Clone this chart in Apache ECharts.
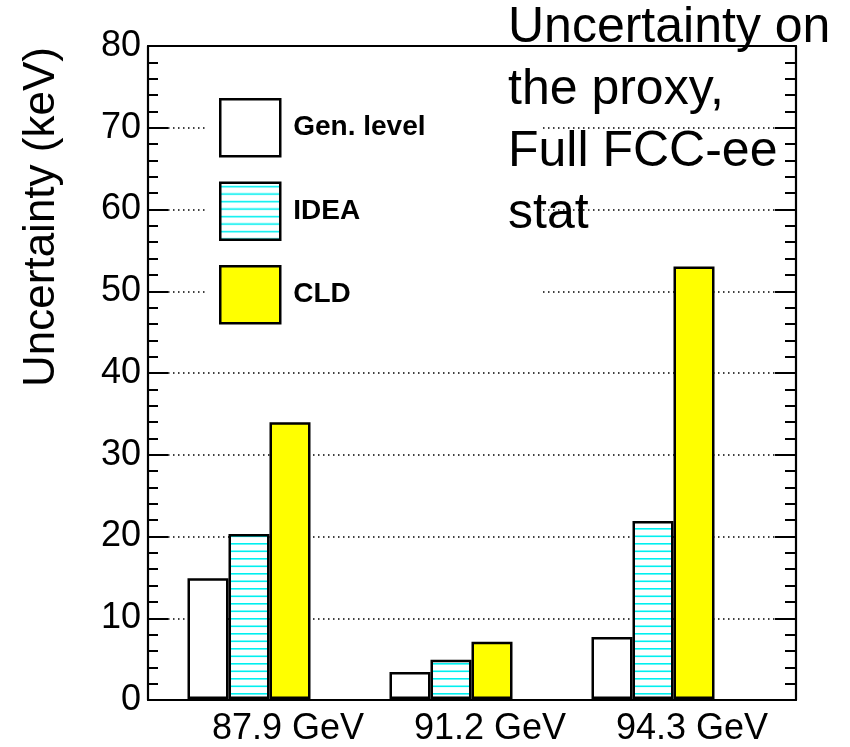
<!DOCTYPE html>
<html>
<head>
<meta charset="utf-8">
<script src="https://cdn.jsdelivr.net/npm/echarts@6/dist/echarts.min.js"></script>
<style>
  html, body { margin: 0; padding: 0; background: #ffffff; }
  #chart { width: 850px; height: 747px; }
</style>
</head>
<body>
<div id="chart"></div>
<script>
// Beam energies (x categories)
const categories = ['87.9 GeV', '91.2 GeV', '94.3 GeV'];
// Uncertainty on the proxy, in keV
const genLevel = [14.8, 3.3, 7.6];
const idea = [20.2, 4.8, 21.8];
const cld = [33.9, 7.0, 53.0];
const seriesNames = ['Gen. level', 'IDEA', 'CLD'];
// Y axis range and step
const yMin = 0, yMax = 80, yStep = 10;

const FONT = 'Liberation Sans, Arial, Helvetica, sans-serif';

// Horizontal cyan hatching used for the IDEA bars
function hatchPattern() {
  const c = document.createElement('canvas');
  c.width = 8; c.height = 15;
  const g = c.getContext('2d');
  g.fillStyle = '#ffffff';
  g.fillRect(0, 0, 8, 15);
  g.fillStyle = '#00f0f0';
  g.fillRect(0, 3, 8, 1.6);
  g.fillRect(0, 10.5, 8, 1.6);
  return { image: c, repeat: 'repeat' };
}

const chart = echarts.init(document.getElementById('chart'), null, { renderer: 'canvas' });

const frameLine = { lineStyle: { color: '#000', width: 2.2 } };

const option = {
  backgroundColor: '#ffffff',
  animation: false,
  grid: [
    // frame of the pad
    { left: 148, right: 54, top: 46, bottom: 47, containLabel: false },
    // bar placement (three bins of equal width)
    { left: 148, width: 606, top: 46, bottom: 47, containLabel: false }
  ],
  xAxis: [
    { gridIndex: 0, type: 'value', min: 0, max: 1, position: 'bottom',
      axisLine: { show: true, onZero: false, ...frameLine }, axisTick: { show: false },
      axisLabel: { show: false }, splitLine: { show: false } },
    { gridIndex: 0, type: 'value', min: 0, max: 1, position: 'top',
      axisLine: { show: true, onZero: false, ...frameLine }, axisTick: { show: false },
      axisLabel: { show: false }, splitLine: { show: false } },
    { gridIndex: 1, type: 'category', data: categories, position: 'bottom',
      axisLine: { show: false }, axisTick: { show: false },
      axisLabel: { show: true, color: '#000', fontFamily: FONT, fontSize: 36,
        margin: 12, padding: [0, 0, 0, 78], interval: 0 },
      splitLine: { show: false } }
  ],
  yAxis: [
    { gridIndex: 0, type: 'value', min: yMin, max: yMax, interval: yStep, position: 'left',
      axisLine: { show: true, onZero: false, ...frameLine },
      axisTick: { show: true, inside: true, length: 20, lineStyle: { color: '#000', width: 2 } },
      minorTick: { show: true, splitNumber: 5, length: 10, lineStyle: { color: '#000', width: 2 } },
      axisLabel: { color: '#000', fontFamily: FONT, fontSize: 36, margin: 7 },
      splitLine: { show: true, lineStyle: { color: '#000', width: 1.5, type: [1.5, 3.5] } } },
    { gridIndex: 0, type: 'value', min: yMin, max: yMax, interval: yStep, position: 'right',
      axisLine: { show: true, onZero: false, ...frameLine },
      axisTick: { show: true, inside: true, length: 21, lineStyle: { color: '#000', width: 2 } },
      minorTick: { show: true, splitNumber: 5, length: 11, lineStyle: { color: '#000', width: 2 } },
      axisLabel: { show: false }, splitLine: { show: false } },
    { gridIndex: 1, type: 'value', min: yMin, max: yMax, show: false }
  ],
  legend: {
    orient: 'vertical',
    left: 207, top: 80,
    padding: [18, 115, 13, 12],
    backgroundColor: '#ffffff',
    itemWidth: 60, itemHeight: 57, itemGap: 24,
    icon: 'rect',
    selectedMode: false,
    itemStyle: { borderColor: '#000', borderWidth: 2.5 },
    textStyle: { color: '#000', fontFamily: FONT, fontSize: 28, fontWeight: 'bold', padding: [0, 0, 0, 8] },
    data: seriesNames
  },
  graphic: [
    {
      type: 'text', left: 508, top: -3, z: 10,
      style: {
        text: 'Uncertainty on\nthe proxy,\nFull FCC-ee\nstat',
        font: '50px ' + FONT, fill: '#000', lineHeight: 62
      }
    },
    {
      type: 'text', x: 42, y: 217, rotation: Math.PI / 2, z: 10,
      style: {
        text: 'Uncertainty (keV)', font: '44px ' + FONT, fill: '#000',
        align: 'center', verticalAlign: 'middle'
      }
    }
  ],
  series: [
    { name: seriesNames[0], type: 'bar', xAxisIndex: 2, yAxisIndex: 2, data: genLevel,
      barWidth: 41, barGap: '0%',
      itemStyle: { color: '#ffffff', borderColor: '#000', borderWidth: 2.5 } },
    { name: seriesNames[1], type: 'bar', xAxisIndex: 2, yAxisIndex: 2, data: idea,
      barWidth: 41, barGap: '0%',
      itemStyle: { color: hatchPattern(), borderColor: '#000', borderWidth: 2.5 } },
    { name: seriesNames[2], type: 'bar', xAxisIndex: 2, yAxisIndex: 2, data: cld,
      barWidth: 41, barGap: '0%',
      itemStyle: { color: '#ffff00', borderColor: '#000', borderWidth: 2.5 } }
  ]
};

chart.setOption(option);
</script>
</body>
</html>
